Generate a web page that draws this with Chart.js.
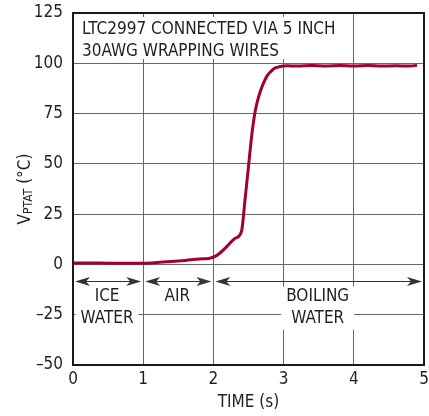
<!DOCTYPE html>
<html>
<head>
<meta charset="utf-8">
<script src="https://cdn.jsdelivr.net/npm/chart.js@4.4.1/dist/chart.umd.min.js"></script>
<style>
  html, body { margin: 0; padding: 0; background: #fff; }
</style>
</head>
<body>
<canvas id="chart" width="429" height="416"></canvas>
<script>
// data
const timeS = [0, 0.25, 0.5, 0.75, 1.0, 1.2, 1.4, 1.6, 1.8, 1.95, 2.05, 2.2, 2.3, 2.4, 2.45, 2.5, 2.55, 2.6, 2.65, 2.7, 2.76, 2.82, 2.88, 2.95, 3.05, 3.2, 3.4, 3.6, 3.8, 4.0, 4.2, 4.4, 4.6, 4.8, 4.9];
const vptat = [0.7, 0.7, 0.6, 0.6, 0.6, 0.9, 1.4, 2.0, 2.7, 3.1, 4.5, 9.2, 12.8, 16.4, 32, 48.7, 65.3, 77, 84, 89, 93.5, 96, 97.7, 98.4, 98.8, 98.6, 98.9, 98.7, 98.9, 98.7, 98.9, 98.6, 98.8, 98.6, 99];

const xTicks = [0, 1, 2, 3, 4, 5];
const yTicks = [-50, -25, 0, 25, 50, 75, 100, 125];

const noteLines = ['LTC2997 CONNECTED VIA 5 INCH', '30AWG WRAPPING WIRES'];
const phaseStart = [0, 1, 2];
const phaseEnd = [1, 2, 5];
const phaseLabels = [['ICE', 'WATER'], ['AIR'], ['BOILING', 'WATER']];

const FONT = '"Liberation Sans Narrow", "DejaVu Sans Condensed", "Arial Narrow", sans-serif';
const INK = '#231f20';
const GRID = '#666666';
const CURVE = '#a10034';

function minus(v) {
  return v < 0 ? '\u2013' + Math.abs(v) : String(v);
}

function arrowHead(ctx, tipX, y, dir) {
  // dir = 1 points left, -1 points right
  ctx.beginPath();
  ctx.moveTo(tipX, y);
  ctx.lineTo(tipX + dir * 15, y - 4.5);
  ctx.lineTo(tipX + dir * 11, y);
  ctx.lineTo(tipX + dir * 15, y + 4.5);
  ctx.closePath();
  ctx.fill();
}

const annotations = {
  id: 'annotations',
  afterDatasetsDraw(chart) {
    const { ctx, chartArea: a, scales: { x, y } } = chart;
    ctx.save();
    ctx.font = '17px ' + FONT;
    ctx.textBaseline = 'middle';

    // note box, top left
    const noteW = Math.max(...noteLines.map(t => ctx.measureText(t).width));
    ctx.fillStyle = '#fff';
    ctx.fillRect(a.left + 2, a.top + 4, noteW + 14, 42);
    ctx.fillStyle = INK;
    ctx.textAlign = 'left';
    noteLines.forEach((t, i) => ctx.fillText(t, a.left + 9, a.top + 17 + i * 22));

    // phase arrows
    const yArrow = Math.round(y.getPixelForValue(-8)) + 0.5;
    ctx.strokeStyle = '#333';
    ctx.fillStyle = '#333';
    ctx.lineWidth = 1;
    phaseStart.forEach((s, i) => {
      const x1 = x.getPixelForValue(s) + 2;
      const x2 = x.getPixelForValue(phaseEnd[i]) - 2;
      ctx.beginPath();
      ctx.moveTo(x1 + 8, yArrow);
      ctx.lineTo(x2 - 8, yArrow);
      ctx.stroke();
      arrowHead(ctx, x1, yArrow, 1);
      arrowHead(ctx, x2, yArrow, -1);
    });

    // phase labels
    ctx.textAlign = 'center';
    const yLab = y.getPixelForValue(-16);
    phaseLabels.forEach((lines, i) => {
      const cx = x.getPixelForValue((phaseStart[i] + phaseEnd[i]) / 2) - 1;
      const w = Math.max(...lines.map(t => ctx.measureText(t).width));
      ctx.fillStyle = '#fff';
      ctx.fillRect(cx - w / 2 - 5, yLab - 10, w + 10, lines.length * 21 + 1);
      ctx.fillStyle = INK;
      lines.forEach((t, j) => ctx.fillText(t, cx, yLab + j * 21.5));
    });
    ctx.restore();
  },
  afterDraw(chart) {
    const { ctx, chartArea: a } = chart;
    ctx.save();
    // frame
    ctx.strokeStyle = '#1a1a1a';
    ctx.lineWidth = 2;
    ctx.strokeRect(a.left, a.top, a.right - a.left, a.bottom - a.top);

    // y axis title with subscript
    ctx.fillStyle = INK;
    ctx.textBaseline = 'alphabetic';
    ctx.textAlign = 'left';
    const big = '17px ' + FONT, small = '12px ' + FONT;
    ctx.font = big; const wV = ctx.measureText('V').width;
    ctx.font = small; const wSub = ctx.measureText('PTAT').width;
    ctx.font = big; const wRest = ctx.measureText(' (\u00b0C)').width;
    const total = wV + wSub + wRest;
    ctx.translate(30, (a.top + a.bottom) / 2);
    ctx.rotate(-Math.PI / 2);
    let px = -total / 2;
    ctx.font = big; ctx.fillText('V', px, 0); px += wV;
    ctx.font = small; ctx.fillText('PTAT', px, 2); px += wSub;
    ctx.font = big; ctx.fillText(' (\u00b0C)', px, 0);
    ctx.restore();
  }
};

new Chart(document.getElementById('chart').getContext('2d'), {
  type: 'line',
  data: {
    datasets: [{
      data: timeS.map((t, i) => ({ x: t, y: vptat[i] })),
      borderColor: CURVE,
      borderWidth: 3,
      pointRadius: 0,
      fill: false,
      cubicInterpolationMode: 'monotone'
    }]
  },
  options: {
    responsive: false,
    animation: false,
    devicePixelRatio: 1,
    layout: { padding: { left: 0, right: 5, top: 13, bottom: 0 } },
    plugins: { legend: { display: false }, tooltip: { enabled: false } },
    scales: {
      x: {
        type: 'linear',
        min: 0, max: 5,
        afterBuildTicks: s => { s.ticks = xTicks.map(v => ({ value: v })); },
        afterFit: s => { s.height = 51; s.paddingLeft = 0; s.paddingRight = 0; },
        ticks: { color: INK, padding: 4, font: { family: FONT, size: 17 } },
        grid: { color: GRID, lineWidth: 1, drawTicks: false },
        border: { display: false },
        title: { display: true, text: 'TIME (s)', color: INK, font: { family: FONT, size: 17 }, padding: { top: 0, bottom: 3 } }
      },
      y: {
        min: -50, max: 125,
        afterBuildTicks: s => { s.ticks = yTicks.map(v => ({ value: v })); },
        afterFit: s => { s.width = 73; s.paddingTop = 0; s.paddingBottom = 0; },
        ticks: { color: INK, padding: 10, font: { family: FONT, size: 17 }, callback: v => minus(v) },
        grid: { color: GRID, lineWidth: 1, drawTicks: false },
        border: { display: false }
      }
    }
  },
  plugins: [annotations]
});
</script>
</body>
</html>
